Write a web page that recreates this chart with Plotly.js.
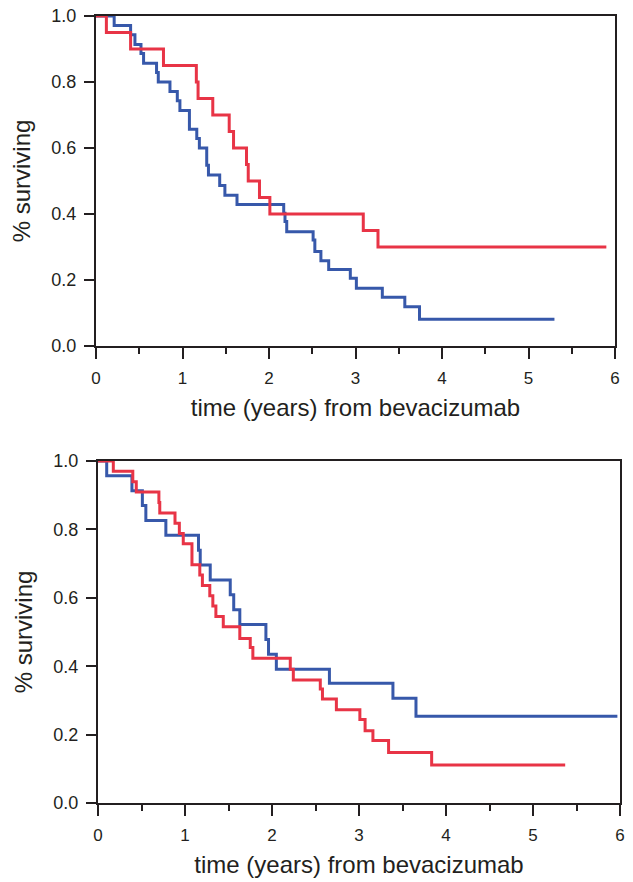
<!DOCTYPE html>
<html>
<head>
<meta charset="utf-8">
<script src="https://cdn.plot.ly/plotly-3.0.1.min.js"></script>
<style>html,body{margin:0;padding:0;background:#fff;}#chart{width:633px;height:882px;}</style>
</head>
<body>
<div id="chart"></div>
<script>
// Top panel
var topRedT = [0, 0.12, 0.40, 0.78, 1.16, 1.18, 1.35, 1.54, 1.59, 1.74, 1.76, 1.89, 2.01, 3.09, 3.26, 5.90];
var topRedS = [1.0, 0.95, 0.90, 0.85, 0.80, 0.75, 0.70, 0.65, 0.60, 0.55, 0.50, 0.45, 0.40, 0.35, 0.30, 0.30];
var topBlueT = [0, 0.21, 0.40, 0.45, 0.52, 0.55, 0.70, 0.72, 0.855, 0.94, 0.97, 1.08, 1.165, 1.195, 1.28, 1.30, 1.43, 1.49, 1.63, 2.17, 2.185, 2.205, 2.51, 2.53, 2.60, 2.69, 2.94, 3.01, 3.31, 3.57, 3.74, 5.30];
var topBlueS = [1.0, 0.971, 0.943, 0.914, 0.886, 0.857, 0.829, 0.800, 0.771, 0.743, 0.714, 0.657, 0.629, 0.600, 0.548, 0.518, 0.486, 0.457, 0.429, 0.402, 0.377, 0.346, 0.321, 0.286, 0.258, 0.232, 0.205, 0.175, 0.148, 0.119, 0.081, 0.081];
// Bottom panel
var botRedT = [0, 0.176, 0.40, 0.44, 0.70, 0.71, 0.885, 0.935, 0.98, 1.08, 1.17, 1.20, 1.285, 1.32, 1.355, 1.44, 1.63, 1.75, 1.78, 2.21, 2.245, 2.555, 2.58, 2.74, 3.01, 3.07, 3.16, 3.34, 3.835, 5.37];
var botRedS = [1.0, 0.970, 0.939, 0.909, 0.879, 0.848, 0.818, 0.788, 0.758, 0.697, 0.667, 0.636, 0.606, 0.576, 0.545, 0.515, 0.481, 0.455, 0.423, 0.391, 0.360, 0.333, 0.304, 0.273, 0.244, 0.211, 0.183, 0.148, 0.111, 0.111];
var botBlueT = [0, 0.10, 0.39, 0.51, 0.55, 0.78, 1.155, 1.175, 1.29, 1.52, 1.56, 1.63, 1.93, 1.96, 2.05, 2.66, 3.39, 3.655, 5.97];
var botBlueS = [1.0, 0.957, 0.913, 0.870, 0.826, 0.783, 0.739, 0.696, 0.652, 0.609, 0.565, 0.522, 0.478, 0.435, 0.391, 0.350, 0.306, 0.254, 0.254];

var xTickVals = [0, 1, 2, 3, 4, 5, 6];
var yTickVals = [0, 0.2, 0.4, 0.6, 0.8, 1.0];
var xTitle = 'time (years) from bevacizumab';
var yTitle = '% surviving';

var RED = 'rgb(232,52,70)';
var BLUE = 'rgb(55,88,170)';

function tr(x, y, color, xa, ya) {
  return {x: x, y: y, type: 'scatter', mode: 'lines', line: {shape: 'hv', color: color, width: 3},
          xaxis: xa, yaxis: ya, hoverinfo: 'skip', showlegend: false};
}

var data = [
  tr(topBlueT, topBlueS, BLUE, 'x', 'y'),
  tr(topRedT, topRedS, RED, 'x', 'y'),
  tr(botBlueT, botBlueS, BLUE, 'x2', 'y2'),
  tr(botRedT, botRedS, RED, 'x2', 'y2')
];

var font = {family: 'Liberation Sans, Arial, sans-serif', color: '#231f20'};

function xax(domain, anchor) {
  return {
    domain: domain, anchor: anchor, range: [0, 6], tickvals: xTickVals, ticktext: xTickVals.map(String),
    showgrid: false, zeroline: false, showline: true, linecolor: '#231f20', linewidth: 2, mirror: true,
    ticks: 'outside', ticklen: 11, tickwidth: 2, tickcolor: '#231f20', ticklabelstandoff: 5,
    minor: {dtick: 0.5, tick0: 0, ticks: 'outside', ticklen: 6, tickwidth: 2, tickcolor: '#231f20', showgrid: false},
    tickfont: {family: font.family, color: font.color, size: 17},
    title: {text: xTitle, font: {family: font.family, color: font.color, size: 24}, standoff: 12}
  };
}
function yax(domain, anchor) {
  return {
    domain: domain, anchor: anchor, range: [0, 1.0], tickvals: yTickVals, tickformat: '.1f',
    showgrid: false, zeroline: false, showline: true, linecolor: '#231f20', linewidth: 2, mirror: true,
    ticks: 'outside', ticklen: 10, tickwidth: 2, tickcolor: '#231f20', ticklabelstandoff: 4,
    tickfont: {family: font.family, color: font.color, size: 18},
    title: {text: yTitle, font: {family: font.family, color: font.color, size: 24}, standoff: 14}
  };
}

var layout = {
  width: 633, height: 882,
  margin: {l: 0, r: 0, t: 0, b: 0},
  paper_bgcolor: '#fff', plot_bgcolor: '#fff',
  font: font,
  xaxis: xax([96/633, 615/633], 'y'),
  yaxis: yax([1 - 346/882, 1 - 16/882], 'x'),
  xaxis2: xax([98/633, 620/633], 'y2'),
  yaxis2: yax([1 - 803/882, 1 - 461/882], 'x2')
};

Plotly.newPlot('chart', data, layout, {staticPlot: true, displayModeBar: false});
</script>
</body>
</html>
